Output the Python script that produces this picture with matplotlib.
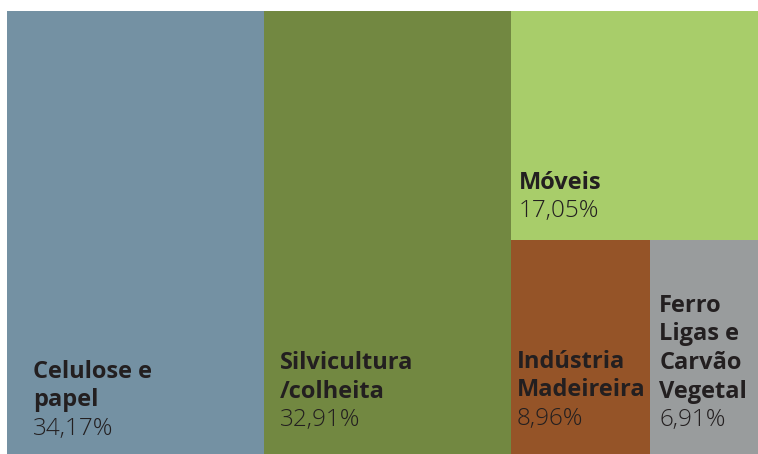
import matplotlib.pyplot as plt
from matplotlib.patches import Rectangle

# treemap data
names = ["Celulose e\npapel", "Silvicultura\n/colheita", "Móveis",
         "Indústria\nMadeireira", "Ferro\nLigas e\nCarvão\nVegetal"]
values = [34.17, 32.91, 17.05, 8.96, 6.91]
labels = ["34,17%", "32,91%", "17,05%", "8,96%", "6,91%"]

colors = ["#7491a3", "#728841", "#a8cd6a", "#955428", "#999c9d"]
# label offset from each box's lower-left corner, in pixels
pads = [(26, 19), (16, 28), (8, 23), (6, 29), (9, 28)]

txt_col = "#231f20"
line_h = 28.5

fig = plt.figure(figsize=(7.58, 4.54), dpi=100)
ax = fig.add_axes([7/758, 0, 751/758, 443/454])
ax.set_xlim(0, 100)
ax.set_ylim(0, 100)
ax.axis("off")

# slice layout: two full columns, then a column split into top box and bottom row
total = sum(values)
w0 = values[0] / total * 100
w1 = values[1] / total * 100
w2 = 100 - w0 - w1
rest = sum(values[2:])
h_top = values[2] / rest * 100
bottom_sum = values[3] + values[4]
w3 = values[3] / bottom_sum * w2

boxes = [
    (0, 0, w0, 100),
    (w0, 0, w1, 100),
    (w0 + w1, 100 - h_top, w2, h_top),
    (w0 + w1, 0, w3, 100 - h_top),
    (w0 + w1 + w3, 0, w2 - w3, 100 - h_top),
]

for (x, y, w, h), c, nm, lb, (dx, dy) in zip(boxes, colors, names, labels, pads):
    ax.add_patch(Rectangle((x, y), w, h, facecolor=c, edgecolor="none"))
    ax.annotate(lb, (x, y), xytext=(dx, dy), textcoords="offset pixels",
                fontsize=17.5, fontfamily="Open Sans", fontweight="light",
                color=txt_col, va="baseline", ha="left")
    lines = nm.split("\n")
    for i, ln in enumerate(reversed(lines)):
        ax.annotate(ln, (x, y), xytext=(dx, dy + line_h * (i + 1)),
                    textcoords="offset pixels", fontsize=17,
                    fontfamily="Open Sans", fontweight="bold",
                    color=txt_col, va="baseline", ha="left")

fig.savefig("out.png", dpi=100)
